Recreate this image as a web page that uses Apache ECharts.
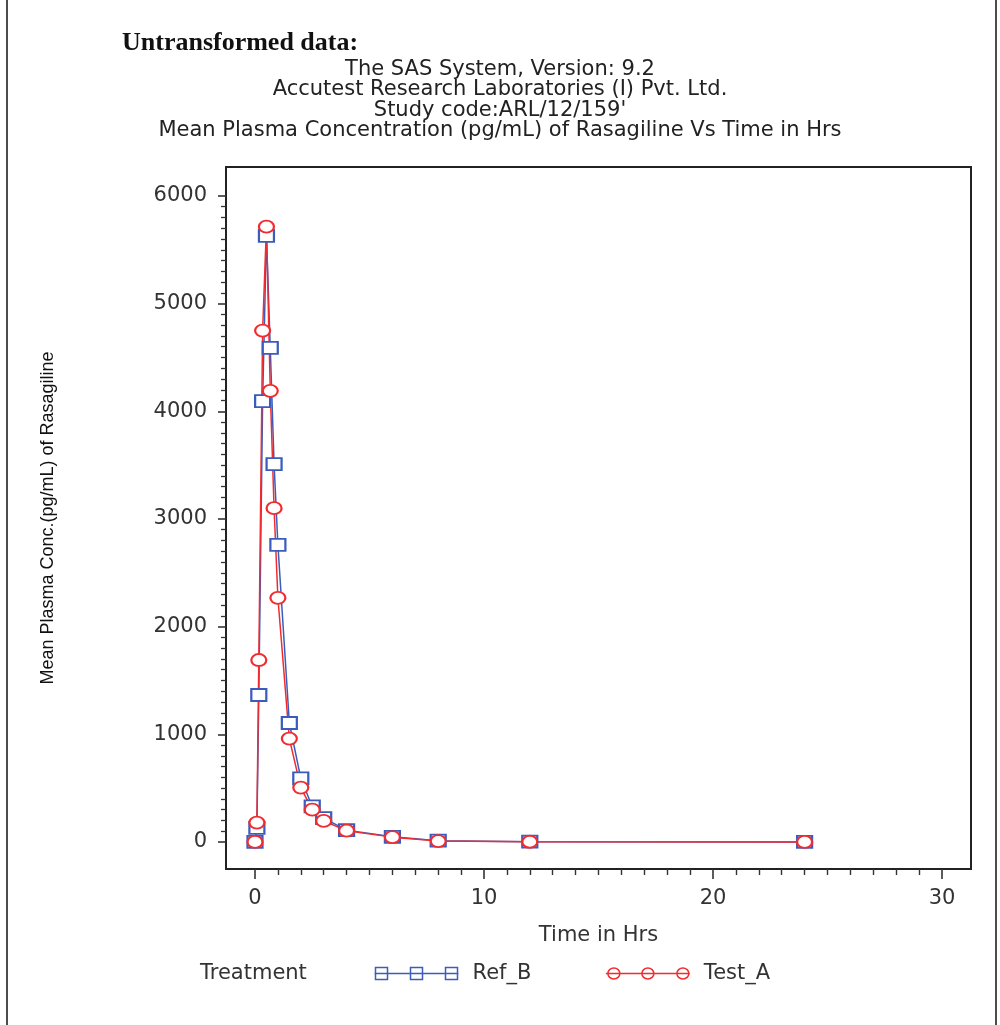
<!DOCTYPE html>
<html>
<head>
<meta charset="utf-8">
<script src="https://cdn.jsdelivr.net/npm/echarts@6/dist/echarts.min.js"></script>
<style>
  html, body { margin: 0; padding: 0; background: #fff; }
  #chart { width: 1000px; height: 1025px; }
</style>
</head>
<body>
<div id="chart"></div>
<script>
// ---- data ----
const timeHrs = [0, 0.083, 0.167, 0.333, 0.5, 0.667, 0.833, 1, 1.5, 2, 2.5, 3, 4, 6, 8, 12, 24];
const refB   = [0, 130, 1365, 4095, 5630, 4590, 3510, 2760, 1105, 590, 330, 222, 110, 48, 12, 3, 0];
const testA  = [0, 180, 1690, 4750, 5715, 4190, 3100, 2268, 960, 505, 300, 195, 105, 45, 8, 2, 0];
const seriesNames = ['Ref_B', 'Test_A'];
const xTicks = [0, 10, 20, 30];
const yTicks = [0, 1000, 2000, 3000, 4000, 5000, 6000];
const headTitle = 'Untransformed data:';
const subtitleLines = [
  'The SAS System, Version: 9.2',
  'Accutest Research Laboratories (I) Pvt. Ltd.',
  "Study code:ARL/12/159'",
  'Mean Plasma Concentration (pg/mL) of Rasagiline Vs Time in Hrs'
];
const xName = 'Time in Hrs';
const yName = 'Mean Plasma Conc.(pg/mL) of Rasagiline';
const legendTitle = 'Treatment';

// axis ranges (SAS pads the frame beyond the tick range)
const xMin = -1.266, xMax = 31.266;
const yMin = -251, yMax = 6269;

// minor tick positions: every 1 h and every 100 units between major ticks
const xMinor = [];
for (let v = xTicks[0]; v <= xTicks[xTicks.length - 1]; v += 1) if (v % 10 !== 0) xMinor.push(v);
const yMinor = [];
for (let v = yTicks[0]; v <= yTicks[yTicks.length - 1]; v += 100) if (v % 1000 !== 0) yMinor.push(v);

const BLUE = '#3b5cbc';
const RED = '#f22b2f';
const INK = '#333333';
const SANS = 'DejaVu Sans';
const FS = 21;

const chart = echarts.init(document.getElementById('chart'), null, { renderer: 'canvas' });

const refIcon = 'path://M0,7H84M1,1H13V13H1ZM36,1H48V13H36ZM71,1H83V13H71Z';
const testIcon = 'path://M0,7H84M14,7A6,5.5 0 1 1 2,7A6,5.5 0 1 1 14,7ZM48,7A6,5.5 0 1 1 36,7A6,5.5 0 1 1 48,7ZM83,7A6,5.5 0 1 1 71,7A6,5.5 0 1 1 83,7Z';

const hidden = { show: false };
const noLine = { show: false, onZero: false };

const option = {
  backgroundColor: '#ffffff',
  animation: false,
  title: [
    {
      text: headTitle,
      left: 122, top: 30, padding: 0,
      textStyle: { fontFamily: 'Liberation Serif', fontWeight: 'bold', fontSize: 26, color: '#111' }
    },
    {
      text: subtitleLines.join('\n'),
      left: 'center', top: 59, padding: 0,
      textStyle: { fontFamily: SANS, fontWeight: 'normal', fontSize: FS, lineHeight: 20.5, color: '#222' }
    }
  ],
  grid: {
    left: 226, right: 29, top: 167, bottom: 156, containLabel: false,
    show: true, borderColor: '#222', borderWidth: 2, backgroundColor: 'transparent'
  },
  xAxis: [
    {
      type: 'value', position: 'bottom',
      min: xMin, max: xMax,
      name: xName, nameLocation: 'middle', nameGap: 56,
      nameTextStyle: { fontFamily: SANS, fontSize: FS, color: INK },
      axisLine: noLine,
      axisTick: { show: true, length: 10, customValues: xTicks, lineStyle: { color: INK, width: 1.6 } },
      axisLabel: { show: true, margin: 19, customValues: xTicks, fontFamily: SANS, fontSize: FS, color: INK,
                   formatter: v => String(v) },
      splitLine: hidden
    },
    {
      type: 'value', position: 'bottom',
      min: xMin, max: xMax,
      axisLine: noLine,
      axisTick: { show: true, length: 6, customValues: xMinor, lineStyle: { color: INK, width: 1.4 } },
      axisLabel: hidden,
      splitLine: hidden
    }
  ],
  yAxis: [
    {
      type: 'value', position: 'left',
      min: yMin, max: yMax,
      name: yName, nameLocation: 'middle', nameGap: 169,
      nameTextStyle: { fontFamily: 'Liberation Sans', fontSize: 18, color: '#111' },
      axisLine: noLine,
      axisTick: { show: true, length: 8, customValues: yTicks, lineStyle: { color: INK, width: 1.6 } },
      axisLabel: { show: true, margin: 19, customValues: yTicks, fontFamily: SANS, fontSize: FS, color: INK,
                   formatter: v => String(v) },
      splitLine: hidden
    },
    {
      type: 'value', position: 'left',
      min: yMin, max: yMax,
      axisLine: noLine,
      axisTick: { show: true, length: 5, customValues: yMinor, lineStyle: { color: INK, width: 1.3 } },
      axisLabel: hidden,
      splitLine: hidden
    }
  ],
  legend: {
    left: 372, top: 963, padding: 0,
    itemWidth: 84, itemHeight: 13,
    itemGap: 72,
    textStyle: { fontFamily: SANS, fontSize: FS, color: INK, padding: [0, 0, 0, 9] },
    data: [
      { name: seriesNames[0], icon: refIcon, itemStyle: { color: 'none', borderColor: BLUE, borderWidth: 1.5 } },
      { name: seriesNames[1], icon: testIcon, itemStyle: { color: 'none', borderColor: RED, borderWidth: 1.5 } }
    ]
  },
  graphic: [
    { type: 'text', left: 200, top: 963,
      style: { text: legendTitle, font: FS + 'px "DejaVu Sans"', fill: INK } },
    { type: 'line', shape: { x1: 7, y1: 0, x2: 7, y2: 1025 }, style: { stroke: '#111', lineWidth: 1.5 } },
    { type: 'line', shape: { x1: 996, y1: 0, x2: 996, y2: 1025 }, style: { stroke: '#111', lineWidth: 1.5 } }
  ],
  series: [
    {
      name: seriesNames[0],
      type: 'line', xAxisIndex: 0, yAxisIndex: 0,
      data: timeHrs.map((t, i) => [t, refB[i]]),
      symbol: 'emptyRect',
      symbolSize: [15, 12],
      lineStyle: { color: BLUE, width: 1.5 },
      itemStyle: { color: BLUE, borderColor: BLUE, borderWidth: 1.5 },
      emphasis: { disabled: true }
    },
    {
      name: seriesNames[1],
      type: 'line', xAxisIndex: 0, yAxisIndex: 0,
      data: timeHrs.map((t, i) => [t, testA[i]]),
      symbol: 'emptyCircle',
      symbolSize: [15, 12],
      lineStyle: { color: RED, width: 1.5 },
      itemStyle: { color: RED, borderColor: RED, borderWidth: 1.5 },
      emphasis: { disabled: true }
    }
  ]
};

chart.setOption(option);
</script>
</body>
</html>
